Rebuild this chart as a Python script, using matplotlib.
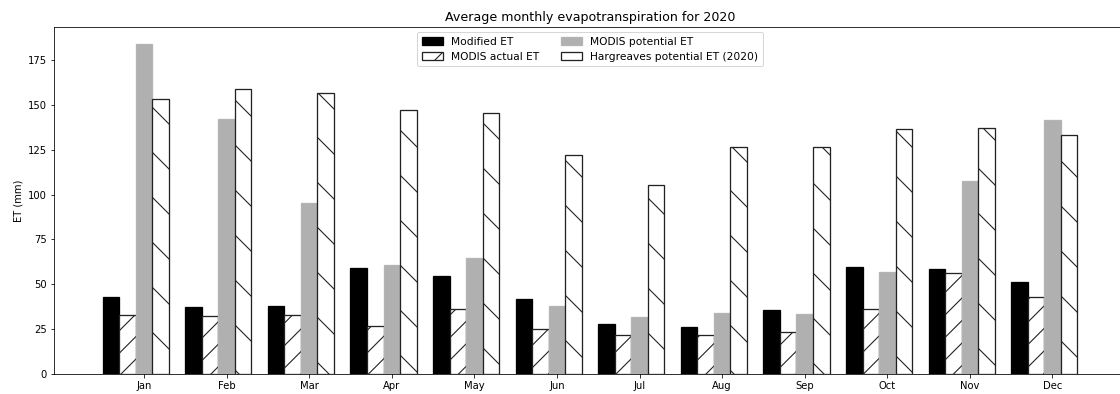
import numpy as np
import matplotlib
matplotlib.use("Agg")
import matplotlib.pyplot as plt

# monthly ET totals for 2020 (mm)
months = ["Jan", "Feb", "Mar", "Apr", "May", "Jun",
          "Jul", "Aug", "Sep", "Oct", "Nov", "Dec"]
modified_et = [43.1, 37.2, 37.8, 59.2, 54.4, 42.0, 27.8, 26.1, 35.5, 59.8, 58.5, 51.4]
modis_aet = [32.9, 32.6, 32.9, 26.5, 36.1, 25.3, 21.8, 21.8, 23.5, 36.1, 56.1, 43.1]
modis_pet = [184.2, 142.2, 95.3, 60.7, 64.4, 37.9, 31.5, 34.2, 33.7, 56.7, 107.8, 141.4]
harg_pet = [153.3, 158.9, 156.8, 147.4, 145.7, 121.8, 105.2, 126.8, 126.5, 136.7, 137.2, 133.1]

# higher dpi gives wider hatch spacing; sizes are scaled back down
dpi = 135
s = 72 / dpi
plt.rcParams.update({
    "font.size": 10 * s,
    "axes.titlepad": 6 * s,
    "axes.labelpad": 4 * s,
    "axes.linewidth": 0.8 * s,
    "xtick.major.size": 3.5 * s,
    "xtick.major.width": 0.8 * s,
    "xtick.major.pad": 3.5 * s,
    "ytick.major.size": 3.5 * s,
    "ytick.major.width": 0.8 * s,
    "ytick.major.pad": 3.5 * s,
    "hatch.linewidth": 1.1 * s,
    "patch.linewidth": 1.0 * s,
})

fig = plt.figure(figsize=(1120 / dpi, 394 / dpi), dpi=dpi)
ax = fig.add_axes([54 / 1120, 20 / 394, 1072 / 1120, 347 / 394])

x = np.arange(len(months))
w = 0.2
lw = 1.3 * s
ax.bar(x - 2 * w, modified_et, w, color="black", edgecolor="black", lw=lw, label="Modified ET")
ax.bar(x - w, modis_aet, w, color="white", edgecolor="#222222", lw=lw, hatch="//", label="MODIS actual ET")
ax.bar(x, modis_pet, w, color="#b0b0b0", edgecolor="#b4b4b4", lw=lw, label="MODIS potential ET")
ax.bar(x + w, harg_pet, w, color="white", edgecolor="#222222", lw=lw, hatch="\\",
       label="Hargreaves potential ET (2020)")

ax.set_xticks(x)
ax.set_xticklabels(months)
ax.set_yticks(np.arange(0, 176, 25))
ax.set_ylabel("ET (mm)")
ax.set_title("Average monthly evapotranspiration for 2020", fontsize=12.7 * s)
ax.legend(loc="upper center", ncol=2, fontsize=10.6 * s)

fig.savefig("out.png", dpi=dpi)
